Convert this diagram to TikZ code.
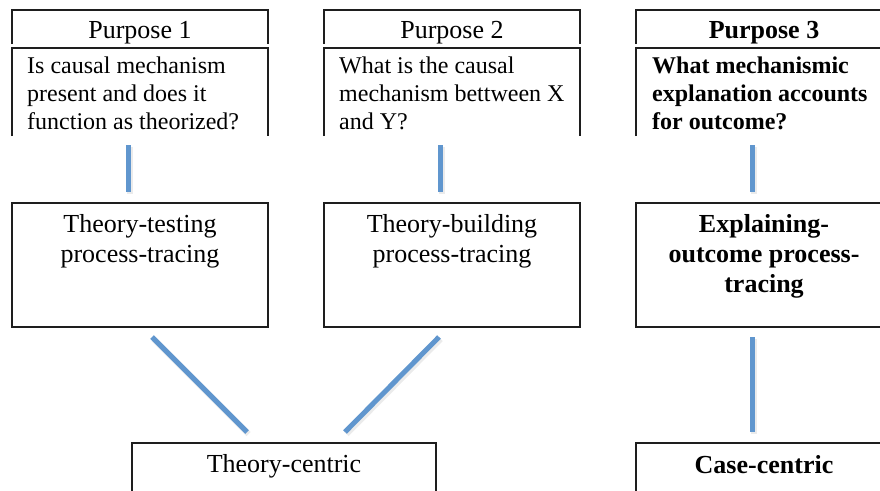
\documentclass[tikz,border=0pt]{standalone}
\usepackage{fontspec}
\setmainfont{Liberation Serif}
\usetikzlibrary{calc}
\definecolor{linkblue}{RGB}{96,150,206}
\definecolor{boxline}{RGB}{30,30,30}
\begin{document}
\begin{tikzpicture}[x=1pt,y=-1pt,
  frame/.style={rectangle, draw=none, minimum width=256pt, inner sep=0pt, outer sep=0pt},
  edge/.style={draw=boxline, line width=1.3pt},
  link/.style={draw=linkblue, line width=5pt},
  linkshade/.style={draw=black, opacity=0.08, line width=6pt},
  bigtxt/.style={font=\fontsize{26}{30}\selectfont, inner sep=0pt, align=center},
  smalltxt/.style={font=\fontsize{24}{28}\selectfont, inner sep=0pt, align=left, anchor=base west}
]
\useasboundingbox (0,0) rectangle (880,490);
\clip (0,0) rectangle (880,490);
\fill[white] (0,0) rectangle (880,490);

% header boxes
\node[frame, minimum height=34pt] (h1) at (140,27) {};
\node[frame, minimum height=34pt] (h2) at (452,27) {};
\node[frame, minimum height=34pt] (h3) at (764,27) {};
% question boxes
\node[frame, minimum height=88pt] (q1) at (140,92) {};
\node[frame, minimum height=88pt] (q2) at (452,92) {};
\node[frame, minimum height=88pt] (q3) at (764,92) {};
% method boxes
\node[frame, minimum height=124pt] (m1) at (140,265) {};
\node[frame, minimum height=124pt] (m2) at (452,265) {};
\node[frame, minimum height=124pt] (m3) at (764,265) {};
% bottom boxes
\node[frame, minimum width=304pt, minimum height=70pt] (b1) at (284,478) {};
\node[frame, minimum height=70pt] (b3) at (764,478) {};

\foreach \n in {h1,h2,h3,q1,q2,q3,b1,b3}{
  \draw[edge] (\n.south west) -- (\n.north west) -- (\n.north east) -- (\n.south east);
}
\foreach \n in {m1,m2,m3}{
  \draw[edge] (\n.south west) rectangle (\n.north east);
}

% texts (base anchor = baseline of the last line)
\node[bigtxt, anchor=base] (th1) at (140,38) {Purpose 1};
\node[bigtxt, anchor=base] (th2) at (452,38) {Purpose 2};
\node[bigtxt, anchor=base, font=\fontsize{26}{30}\selectfont\bfseries] (th3) at (764,38) {Purpose 3};

\node[smalltxt] (tq1) at (27,129) {Is causal mechanism\\present and does it\\function as theorized?};
\node[smalltxt] (tq2) at (339,129) {What is the causal\\mechanism bettween X\\and Y?};
\node[smalltxt, font=\fontsize{24}{28}\selectfont\bfseries] (tq3) at (652,129) {What mechanismic\\explanation accounts\\for outcome?};

\node[bigtxt, anchor=base] (tm1) at (140,262) {Theory-testing\\process-tracing};
\node[bigtxt, anchor=base] (tm2) at (452,262) {Theory-building\\process-tracing};
\node[bigtxt, anchor=base, font=\fontsize{26}{30}\selectfont\bfseries] (tm3) at (764,292) {Explaining-\\outcome process-\\tracing};

\node[bigtxt, anchor=base] (tb1) at (284,472) {Theory-centric};
\node[bigtxt, anchor=base, font=\fontsize{26}{30}\selectfont\bfseries] (tb3) at (764,473) {Case-centric};

% connector end points
\coordinate (a1) at (128,145); \coordinate (a2) at (128,192);
\coordinate (b1a) at (440,145); \coordinate (b2a) at (440,192);
\coordinate (c1) at (752,145); \coordinate (c2) at (752,192);
\coordinate (d1) at (752,337); \coordinate (d2) at (752,432);
\coordinate (e1) at (152,337); \coordinate (e2) at (247,432);
\coordinate (f1) at (439,337); \coordinate (f2) at (345,432);

\foreach \p/\q in {a1/a2,b1a/b2a,c1/c2,d1/d2,e1/e2,f1/f2}{
  \draw[linkshade] ($(\p)+(1.5,2)$) -- ($(\q)+(1.5,2)$);
}
\foreach \p/\q in {a1/a2,b1a/b2a,c1/c2,d1/d2,e1/e2,f1/f2}{
  \draw[link] (\p) -- (\q);
}
\end{tikzpicture}
\end{document}
